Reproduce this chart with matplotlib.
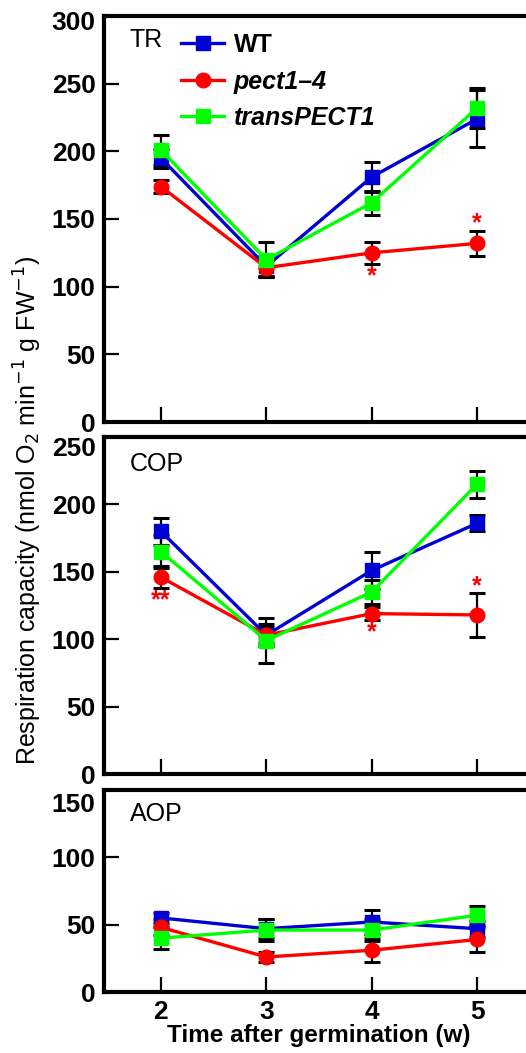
import matplotlib.pyplot as plt
import matplotlib.transforms as mtransforms

plt.rcParams['font.family'] = ['Liberation Sans', 'DejaVu Sans']

# weeks after germination
weeks = [2, 3, 4, 5]

# TR panel
tr_wt = [195, 115, 181, 224]
tr_wt_err = [7, 8, 11, 21]
tr_pect = [174, 114, 125, 132]
tr_pect_err = [5, 6, 8, 9]
tr_trans = [201, 120, 162, 232]
tr_trans_err = [11, 13, 9, 15]

# COP panel
cop_wt = [180, 103, 151, 186]
cop_wt_err = [10, 8, 14, 6]
cop_pect = [146, 103, 119, 118]
cop_pect_err = [8, 6, 5, 16]
cop_trans = [165, 99, 135, 215]
cop_trans_err = [12, 17, 9, 10]

# AOP panel
aop_wt = [55, 47, 52, 47]
aop_wt_err = [4, 7, 9, 6]
aop_pect = [48, 26, 31, 39]
aop_pect_err = [6, 4, 9, 9]
aop_trans = [40, 46, 46, 57]
aop_trans_err = [8, 8, 8, 7]

# significance marks (week, height, text)
tr_stars = [(4, 108, '*'), (5, 147, '*')]
cop_stars = [(2, 129, '**'), (4, 105, '*'), (5, 139, '*')]
aop_stars = []

labels = ['WT', 'pect1\u20134', 'transPECT1']
colors = ['#0000d2', '#ff0000', '#00ff00']
markers = ['s', 'o', 's']

panels = [
    ('TR', 300, [tr_wt, tr_pect, tr_trans], [tr_wt_err, tr_pect_err, tr_trans_err], tr_stars),
    ('COP', 250, [cop_wt, cop_pect, cop_trans], [cop_wt_err, cop_pect_err, cop_trans_err], cop_stars),
    ('AOP', 150, [aop_wt, aop_pect, aop_trans], [aop_wt_err, aop_pect_err, aop_trans_err], aop_stars),
]

fig = plt.figure(figsize=(5.26, 10.53), dpi=100)
W, H = 526, 1053
left_px, right_px = 104, 534
boxes = [(16, 422), (437, 774), (790, 992)]
top_label_shift = [4, 10, 12]   # px, top tick label sits lower in the original
name_y = [0.94, 0.92, 0.88]

for i, ((name, ymax, vals, errs, stars), (top, bot)) in enumerate(zip(panels, boxes)):
    ax = fig.add_axes([left_px / W, 1 - bot / H, (right_px - left_px) / W, (bot - top) / H])
    for v, e in zip(vals, errs):
        ax.errorbar(weeks, v, yerr=e, fmt='none', ecolor='black', elinewidth=1.6,
                    capsize=5.5, capthick=2.2, zorder=2)
    for v, c, m, lab in zip(vals, colors, markers, labels):
        ms = 10 if m == 's' else 10.5
        ax.plot(weeks, v, color=c, marker=m, markersize=ms, linewidth=2.4,
                label=lab, zorder=3)
    for x, y, s in stars:
        ax.text(x, y, s, color='red', fontsize=18, fontweight='bold',
                ha='center', va='center', zorder=4)

    ax.set_xlim(1.46, 5.54)
    ax.set_ylim(0, ymax)
    ax.set_yticks(range(0, ymax + 1, 50))
    ax.set_xticks(weeks)
    for sp in ax.spines.values():
        sp.set_linewidth(3)
    ax.tick_params(direction='in', length=11, width=1.6, labelsize=19, pad=6,
                   top=False, right=False)
    for t in ax.get_yticklabels() + ax.get_xticklabels():
        t.set_fontweight('bold')
    ylabs = ax.get_yticklabels()
    off = mtransforms.ScaledTranslation(0, -top_label_shift[i] / 100, fig.dpi_scale_trans)
    ylabs[-1].set_transform(ylabs[-1].get_transform() + off)
    if i < 2:
        ax.tick_params(axis='x', labelbottom=False)
    else:
        ax.set_xlabel('Time after germination (w)', fontsize=17.5,
                      fontweight='bold', labelpad=0)

    ax.text(0.06, name_y[i], name, transform=ax.transAxes, fontsize=18,
            ha='left', va='center')

    if i == 0:
        leg = ax.legend(loc='upper left', bbox_to_anchor=(0.145, 0.995), frameon=False,
                        prop={'size': 18, 'weight': 'bold'}, handlelength=1.7,
                        handletextpad=0.4, labelspacing=0.5, borderpad=0.1)
        for t in leg.get_texts()[1:]:
            t.set_fontstyle('italic')

fig.text(0.053, 0.515, 'Respiration capacity (nmol O$_2$ min$^{-1}$ g FW$^{-1}$)',
         rotation=90, ha='center', va='center', fontsize=18)

fig.savefig('out.png', dpi=100)
